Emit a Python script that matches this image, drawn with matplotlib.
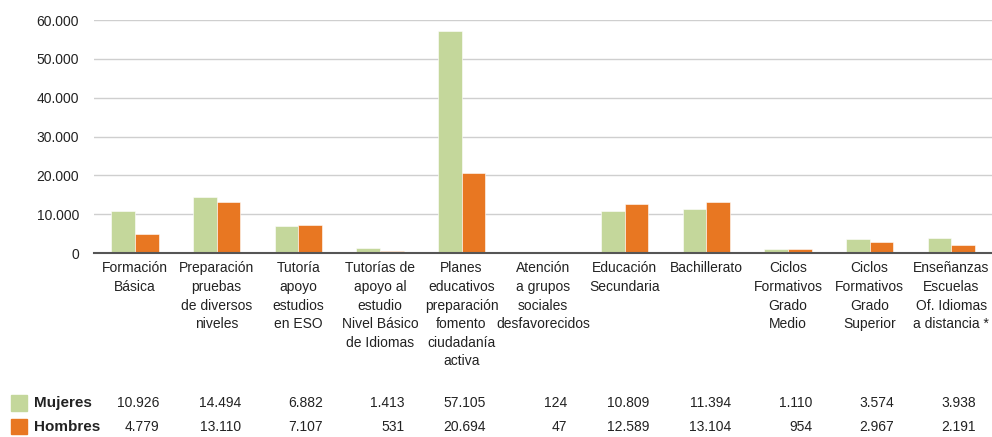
import matplotlib.pyplot as plt
import matplotlib.transforms as mtransforms
import numpy as np

plt.rcParams['font.family'] = ['Liberation Sans', 'DejaVu Sans']

# DATOS
categorias = [
    'Formación\nBásica',
    'Preparación\npruebas\nde diversos\nniveles',
    'Tutoría\napoyo\nestudios\nen ESO',
    'Tutorías de\napoyo al\nestudio\nNivel Básico\nde Idiomas',
    'Planes\neducativos\npreparación\nfomento\nciudadanía\nactiva',
    'Atención\na grupos\nsociales\ndesfavorecidos',
    'Educación\nSecundaria',
    'Bachillerato',
    'Ciclos\nFormativos\nGrado\nMedio',
    'Ciclos\nFormativos\nGrado\nSuperior',
    'Enseñanzas\nEscuelas\nOf. Idiomas\na distancia *',
]
mujeres = [10926, 14494, 6882, 1413, 57105, 124, 10809, 11394, 1110, 3574, 3938]
hombres = [4779, 13110, 7107, 531, 20694, 47, 12589, 13104, 954, 2967, 2191]
series = ['Mujeres', 'Hombres']

verde = '#C4D79B'
naranja = '#E87722'
texto = '#222222'


def miles(v):
    return f'{int(v):,}'.replace(',', '.')


fig = plt.figure(figsize=(9.92, 4.37), dpi=100)
ax = fig.add_axes([0.095, 0.421, 0.905, 0.533])

x = np.arange(len(categorias))
w = 0.29
ax.bar(x - w / 2, mujeres, w, color=verde, edgecolor='white', linewidth=0.4, zorder=3)
ax.bar(x + w / 2, hombres, w, color=naranja, edgecolor='white', linewidth=0.4, zorder=3)

ax.set_xlim(-0.5, len(categorias) - 0.5)
ax.set_ylim(0, 60000)
ax.set_yticks(np.arange(0, 60001, 10000))
ax.set_yticklabels([miles(v) for v in np.arange(0, 60001, 10000)])
ax.yaxis.grid(True, color='#CFCFCF', linewidth=1, zorder=0)
ax.tick_params(axis='y', length=0, pad=11, labelsize=10, labelcolor=texto)

ax.set_xticks(x)
ax.set_xticklabels(categorias, fontsize=10, color=texto, linespacing=1.42)
ax.tick_params(axis='x', length=0, pad=6)

for s in ['top', 'right', 'left']:
    ax.spines[s].set_visible(False)
ax.spines['bottom'].set_color('#555555')
ax.spines['bottom'].set_linewidth(1.5)
ax.spines['bottom'].set_zorder(4)

# TABLA DE DATOS
trans = mtransforms.blended_transform_factory(ax.transData, fig.transFigure)
filas_y = [0.077, 0.024]
colores = [verde, naranja]
for nombre, valores, fy, col in zip(series, [mujeres, hombres], filas_y, colores):
    fig.patches.append(plt.Rectangle((0.011, fy - 0.018), 0.016, 0.036,
                                     transform=fig.transFigure, color=col))
    fig.text(0.034, fy, nombre, fontsize=11, fontweight='bold', color=texto, va='center')
    for xi, v in zip(x, valores):
        ax.text(xi + 0.30, fy, miles(v), transform=trans, ha='right', va='center',
                fontsize=10, color=texto)

fig.savefig('out.png', dpi=100)
